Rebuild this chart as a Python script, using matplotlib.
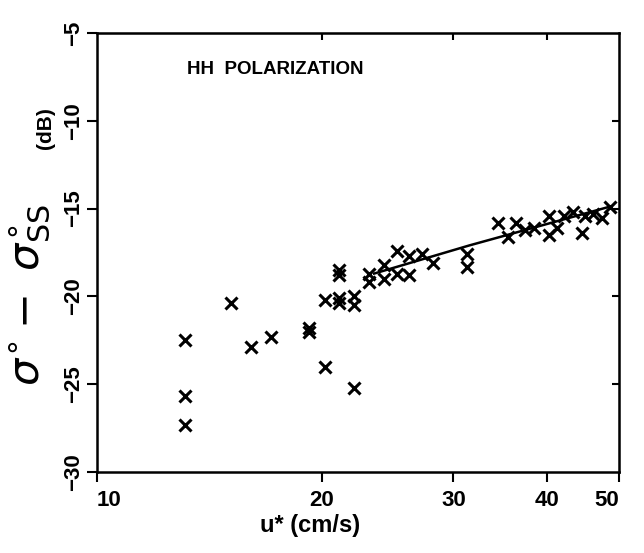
"""HH polarization: sigma0 - sigma0_SS versus friction velocity u*, log x axis."""

import matplotlib

matplotlib.use("Agg")
import matplotlib.pyplot as plt  # noqa: E402
from matplotlib.ticker import FixedLocator, NullLocator  # noqa: E402

plt.rcParams["font.family"] = ["Liberation Sans", "DejaVu Sans"]

# measured points (u* in cm/s, difference in dB)
u_star = [13.1, 13.1, 13.1, 15.1, 16.1, 17.1, 19.2, 19.2, 20.2, 20.2,
          21.1, 21.1, 21.1, 21.1, 22.1, 22.1, 22.1, 23.1, 23.1, 24.2,
          24.2, 25.2, 25.2, 26.2, 26.2, 27.2, 28.2, 31.3, 31.3, 34.4,
          35.5, 36.4, 37.4, 38.5, 40.3, 40.3, 41.3, 42.2, 43.4, 44.6,
          45.0, 46.1, 47.4, 48.6]
sigma_diff = [-22.5, -25.7, -27.3, -20.4, -22.9, -22.3, -21.8, -22.0, -20.2, -24.0,
              -18.5, -18.8, -20.1, -20.4, -20.0, -20.5, -25.2, -18.7, -19.2, -18.2,
              -19.0, -17.4, -18.7, -17.7, -18.8, -17.6, -18.1, -17.6, -18.3, -15.8,
              -16.6, -15.8, -16.2, -16.1, -15.4, -16.5, -16.1, -15.4, -15.2, -16.4,
              -15.4, -15.3, -15.55, -14.9]

# fitted curve
fit_u = [23.5, 31.5, 48.5]
fit_y = [-18.7, -17.1, -14.9]

x_ticks = [10, 20, 30, 40, 50]
y_ticks = [-30, -25, -20, -15, -10, -5]

fig = plt.figure(figsize=(6.44, 5.53), dpi=100)
ax = fig.add_axes([97 / 644, 1 - 472 / 553, (619 - 97) / 644, (472 - 33) / 553])

ax.plot(u_star, sigma_diff, "x", color="black", ms=8, mew=2.2)
ax.plot(fit_u, fit_y, color="black", lw=1.8)

ax.set_xscale("log")
ax.set_xlim(10, 50)
ax.set_ylim(-30, -5)
ax.xaxis.set_major_locator(FixedLocator(x_ticks))
ax.xaxis.set_minor_locator(NullLocator())
ax.set_xticklabels([str(v) for v in x_ticks], fontweight="bold")
ax.set_yticks(y_ticks)
ax.set_yticklabels([f"\u2212{abs(v)}" for v in y_ticks], rotation=90, va="center",
                   fontweight="bold")

for sp in ax.spines.values():
    sp.set_linewidth(1.8)
ax.tick_params(axis="both", which="major", direction="out", length=7, width=1.5,
               labelsize=16, pad=6)
ax.tick_params(axis="y", pad=2)
labels = ax.get_xticklabels()
labels[0].set_ha("left")
labels[-1].set_ha("right")

# inward ticks on top and right edges
top = ax.secondary_xaxis("top")
top.xaxis.set_major_locator(FixedLocator(x_ticks[1:-1]))
top.xaxis.set_minor_locator(NullLocator())
top.tick_params(direction="in", length=5, width=1.5, labeltop=False)
right = ax.secondary_yaxis("right")
right.set_yticks(y_ticks[1:-1])
right.tick_params(direction="in", length=5, width=1.5, labelright=False)

ax.set_xlabel("u* (cm/s)", fontsize=17, fontweight="bold")
ax.xaxis.set_label_coords((310 - 97) / (619 - 97), -0.095)

fig.text(30 / 644, 1 - 295 / 553, r"$\sigma^{\circ}-\ \sigma^{\circ}_{\rm SS}$",
         rotation=90, fontsize=31, ha="center", va="center")
fig.text(46 / 644, 1 - 128 / 553, "(dB)", rotation=90, fontsize=15,
         fontweight="bold", ha="center", va="center")
fig.text(187 / 644, 1 - 70 / 553, "HH  POLARIZATION", fontsize=13.5,
         fontweight="bold", ha="left", va="center")

fig.savefig("out.png", dpi=100)
